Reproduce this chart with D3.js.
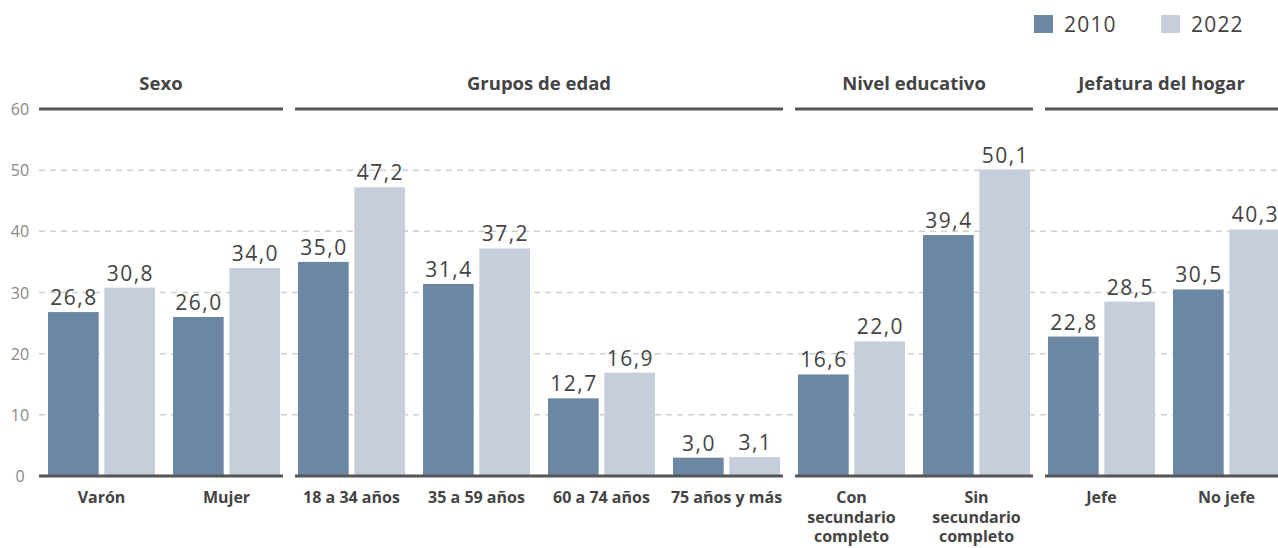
<!DOCTYPE html>
<html>
<head>
<meta charset="utf-8">
<script src="https://cdn.jsdelivr.net/npm/d3@7"></script>
<style>
  body { margin: 0; background: #fff; }
  svg text { font-family: "Open Sans", "Lato", sans-serif; }
</style>
</head>
<body>
<div id="chart"></div>
<script>
// data
const categories = ["Varón", "Mujer", "18 a 34 años", "35 a 59 años", "60 a 74 años", "75 años y más",
  "Con secundario completo", "Sin secundario completo", "Jefe", "No jefe"];
const categoryLines = [["Varón"], ["Mujer"], ["18 a 34 años"], ["35 a 59 años"], ["60 a 74 años"], ["75 años y más"],
  ["Con", "secundario", "completo"], ["Sin", "secundario", "completo"], ["Jefe"], ["No jefe"]];
const series = ["2010", "2022"];
const values2010 = [26.8, 26.0, 35.0, 31.4, 12.7, 3.0, 16.6, 39.4, 22.8, 30.5];
const values2022 = [30.8, 34.0, 47.2, 37.2, 16.9, 3.1, 22.0, 50.1, 28.5, 40.3];
const groups = ["Sexo", "Grupos de edad", "Nivel educativo", "Jefatura del hogar"];
const groupSizes = [2, 4, 2, 2];
const yTicks = [0, 10, 20, 30, 40, 50, 60];

const config = {
  width: 1278,
  height: 548,
  colors: { "2010": "#6b87a4", "2022": "#c7cedb" },
  text: "#444"
};

const svg = d3.select("#chart").append("svg")
  .attr("width", config.width)
  .attr("height", config.height);

const x = d3.scaleBand()
  .domain(categories)
  .range([39, 1289])
  .paddingInner(0.144)
  .paddingOuter(0.072);

const xSub = d3.scaleBand()
  .domain(series)
  .range([0, x.bandwidth()])
  .paddingInner(0.1);

const y = d3.scaleLinear().domain([0, 60]).range([476, 109]);

const pad = x.step() - x.bandwidth();

// gridlines
svg.append("g").selectAll("line")
  .data(yTicks.filter(d => d > 0 && d < 60))
  .join("line")
  .attr("x1", 39).attr("x2", config.width)
  .attr("y1", d => y(d)).attr("y2", d => y(d))
  .attr("stroke", "#cfcfcf")
  .attr("stroke-width", 1.5)
  .attr("stroke-dasharray", "6,5");

// y labels
svg.append("g").selectAll("text")
  .data(yTicks)
  .join("text")
  .attr("x", 20)
  .attr("y", d => y(d) + 6)
  .attr("text-anchor", "middle")
  .attr("font-size", 16)
  .attr("fill", "#888")
  .text(d => d);

// bars
const rows = categories.map((c, i) => ({ cat: c, "2010": values2010[i], "2022": values2022[i] }));
const cat = svg.append("g").selectAll("g")
  .data(rows)
  .join("g")
  .attr("transform", d => `translate(${x(d.cat)},0)`);

cat.selectAll("rect")
  .data(d => series.map(s => ({ s, v: d[s] })))
  .join("rect")
  .attr("x", d => xSub(d.s))
  .attr("width", xSub.bandwidth())
  .attr("y", d => y(d.v))
  .attr("height", d => y(0) - y(d.v))
  .attr("fill", d => config.colors[d.s]);

cat.selectAll("text.val")
  .data(d => series.map(s => ({ s, v: d[s] })))
  .join("text")
  .attr("class", "val")
  .attr("x", d => xSub(d.s) + xSub.bandwidth() / 2 + 0.75)
  .attr("y", d => y(d.v) - 7)
  .attr("text-anchor", "middle")
  .attr("font-size", 21)
  .attr("letter-spacing", 1.5)
  .attr("fill", config.text)
  .text(d => d.v.toFixed(1).replace(".", ","));

// category labels
cat.append("text")
  .attr("x", x.bandwidth() / 2)
  .attr("y", 503)
  .attr("text-anchor", "middle")
  .attr("font-size", 16)
  .attr("font-weight", 700)
  .attr("fill", config.text)
  .selectAll("tspan")
  .data(d => categoryLines[categories.indexOf(d.cat)])
  .join("tspan")
  .attr("x", x.bandwidth() / 2)
  .attr("dy", (d, i) => i === 0 ? 0 : 19.5)
  .text(d => d);

// panels: header, top line, baseline
let start = 0;
const panels = groups.map((g, i) => {
  const first = categories[start];
  const last = categories[start + groupSizes[i] - 1];
  start += groupSizes[i];
  return {
    name: g,
    x1: x(first) - pad / 2 + (i === 0 ? 0 : 6),
    x2: x(last) + x.bandwidth() + pad / 2 - 6
  };
});

const panel = svg.append("g").selectAll("g").data(panels).join("g");
[y(60), y(0)].forEach(yy => {
  panel.append("line")
    .attr("x1", d => d.x1).attr("x2", d => d.x2)
    .attr("y1", yy).attr("y2", yy)
    .attr("stroke", "#555")
    .attr("stroke-width", 3);
});
panel.append("text")
  .attr("x", d => (d.x1 + Math.min(d.x2, config.width)) / 2)
  .attr("y", 90)
  .attr("text-anchor", "middle")
  .attr("font-size", 18.5)
  .attr("font-weight", 700)
  .attr("fill", config.text)
  .text(d => d.name);

// legend
const legend = svg.append("g").selectAll("g")
  .data(series)
  .join("g")
  .attr("transform", (d, i) => `translate(${1034 + i * 127},15)`);
legend.append("rect")
  .attr("width", 19).attr("height", 18)
  .attr("fill", d => config.colors[d]);
legend.append("text")
  .attr("x", 30).attr("y", 17)
  .attr("font-size", 21)
  .attr("letter-spacing", 1.2)
  .attr("fill", config.text)
  .text(d => d);
</script>
</body>
</html>
